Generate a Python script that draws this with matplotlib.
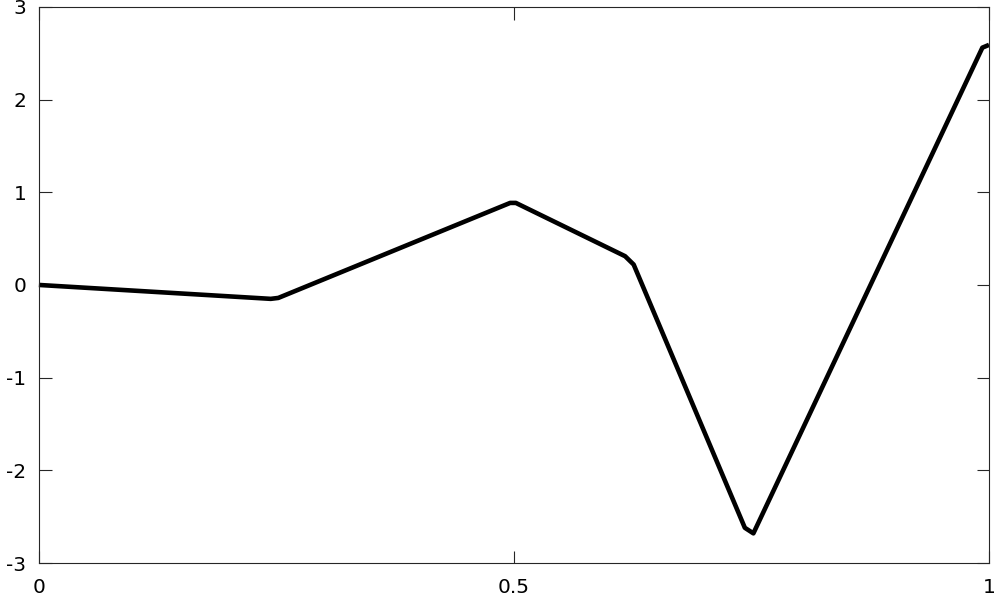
import matplotlib
matplotlib.use("Agg")
import matplotlib.pyplot as plt

# значения кривой
x_vals = [0.0, 0.244, 0.252, 0.496, 0.502, 0.617, 0.626, 0.743, 0.752, 0.993, 1.0]
y_vals = [0.0, -0.15, -0.14, 0.885, 0.885, 0.31, 0.22, -2.62, -2.68, 2.56, 2.59]

x_ticks = [0, 0.5, 1]
x_labels = ["0", "0.5", "1"]
y_ticks = [-3, -2, -1, 0, 1, 2, 3]

plt.rcParams["font.family"] = ["DejaVu Sans"]
plt.rcParams["axes.unicode_minus"] = False

fig = plt.figure(figsize=(9.97, 5.98), dpi=100)
ax = fig.add_axes([0.039, 0.0585, 0.953, 0.93])
ax.plot(x_vals, y_vals, color="black", linewidth=3.3, solid_joinstyle="round",
        solid_capstyle="butt", clip_on=False)

ax.set_xlim(0, 1)
ax.set_ylim(-3, 3)
ax.set_xticks(x_ticks)
ax.set_xticklabels(x_labels)
ax.set_yticks(y_ticks)
ax.tick_params(direction="in", length=9, width=0.8, color="#262626",
               labelsize=14.5, top=True, right=True)
ax.tick_params(axis="x", pad=11)
ax.tick_params(axis="y", pad=9)
for s in ax.spines.values():
    s.set_color("#262626")
    s.set_linewidth(0.8)

fig.savefig("out.png", dpi=100)
